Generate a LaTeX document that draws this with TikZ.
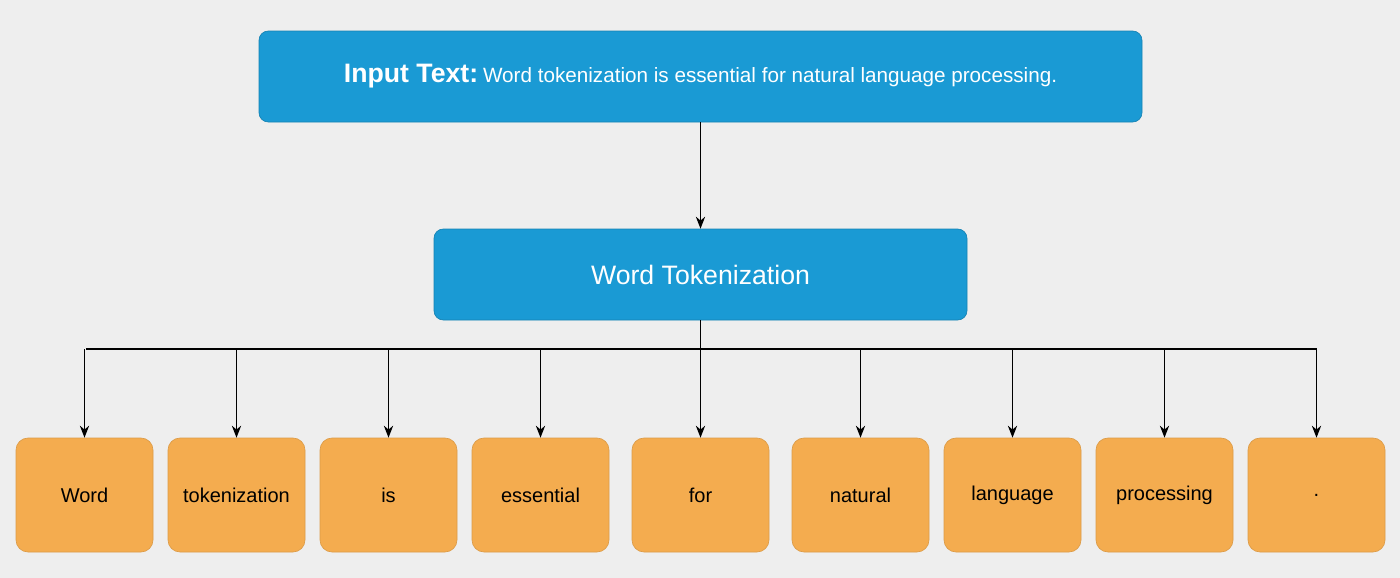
\documentclass[tikz,border=0pt]{standalone}
\usepackage{fontspec}
\setmainfont{Liberation Sans}
\usetikzlibrary{arrows.meta}
\definecolor{bg}{HTML}{EEEEEE}
\definecolor{bluebox}{HTML}{1A9AD4}
\definecolor{orangebox}{HTML}{F4AC4F}
\begin{document}
\begin{tikzpicture}[x=0.75pt,y=-0.75pt,
  bluestyle/.style={draw=bluebox!85!black,line width=0.5pt,fill=bluebox,rounded corners=7pt,text=white,inner sep=0pt},
  tokstyle/.style={draw=orangebox!90!black,line width=0.5pt,fill=orangebox,rounded corners=9pt,minimum width=137*0.75pt,minimum height=114*0.75pt,font=\fontsize{15}{18}\selectfont,inner sep=0pt},
  arr/.style={-{Stealth[length=9pt,width=7pt]},line width=0.9pt}]
\fill[bg] (0,0) rectangle (1400,578);
\useasboundingbox (0,0) rectangle (1400,578);
\node[bluestyle,minimum width=883*0.75pt,minimum height=91*0.75pt] (inp) at (700.5,76.5)
  {{\fontsize{20}{24}\selectfont\bfseries Input Text:} {\fontsize{15.5}{18}\selectfont Word tokenization is essential for natural language processing.}};
\node[bluestyle,minimum width=533*0.75pt,minimum height=91*0.75pt,font=\fontsize{20}{24}\selectfont] (wt) at (700.5,274.5) {Word Tokenization};
\draw[arr] (inp.south) -- (wt.north);
\foreach \n/\x/\t in {t1/84.5/Word,t2/236.5/tokenization,t3/388.5/is,t4/540.5/essential,t5/700.5/for,t6/860.5/natural,t7/1012.5/language,t8/1164.5/processing,t9/1316.5/.}{
  \node[tokstyle] (\n) at (\x,495) {\t};
}
\coordinate (hl) at (86,349);
\coordinate (hr) at (1317,349);
\draw[line width=0.9pt] (hl) -- (hr);
\draw[arr] (wt.south) -- (t5.north);
\foreach \n in {t1,t2,t3,t4,t6,t7,t8,t9}{
  \draw[arr] (\n.north |- hl) -- (\n.north);
}
\end{tikzpicture}
\end{document}
